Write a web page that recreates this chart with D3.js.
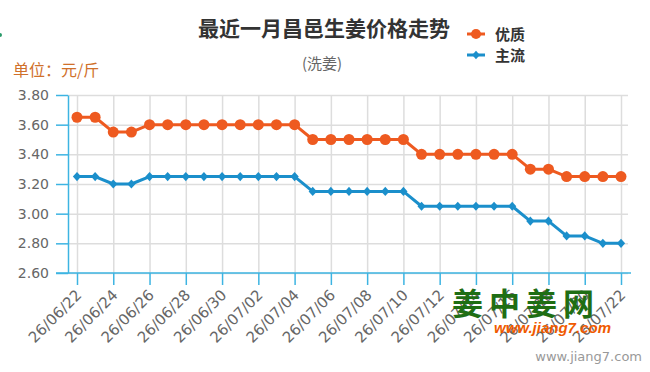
<!DOCTYPE html>
<html>
<head>
<meta charset="utf-8">
<script src="https://cdn.jsdelivr.net/npm/d3@7"></script>
<style>
  body { margin: 0; background: #fff; }
  #chart-area { width: 650px; height: 372px; }
  .axis text { font-family: "DejaVu Sans", sans-serif; font-size: 14px; fill: #666; }
  .x-axis text { font-size: 15px; }
  .axis path, .axis line { stroke: #3db4e2; stroke-width: 1.5; }
  .grid line { stroke: #dddddd; stroke-width: 1.5; }
  .grid path { display: none; }
</style>
</head>
<body>
<div id="chart-area"></div>
<script>

// Data
var dates = ["26/06/22", "26/06/23", "26/06/24", "26/06/25", "26/06/26", "26/06/27",
  "26/06/28", "26/06/29", "26/06/30", "26/07/01", "26/07/02", "26/07/03", "26/07/04",
  "26/07/05", "26/07/06", "26/07/07", "26/07/08", "26/07/09", "26/07/10", "26/07/11",
  "26/07/12", "26/07/13", "26/07/14", "26/07/15", "26/07/16", "26/07/17", "26/07/18",
  "26/07/19", "26/07/20", "26/07/21", "26/07/22"];

var premiumPrices = [3.65, 3.65, 3.55, 3.55, 3.60, 3.60, 3.60, 3.60, 3.60, 3.60, 3.60,
  3.60, 3.60, 3.50, 3.50, 3.50, 3.50, 3.50, 3.50, 3.40, 3.40, 3.40, 3.40, 3.40, 3.40,
  3.30, 3.30, 3.25, 3.25, 3.25, 3.25];

var mainPrices = [3.25, 3.25, 3.20, 3.20, 3.25, 3.25, 3.25, 3.25, 3.25, 3.25, 3.25,
  3.25, 3.25, 3.15, 3.15, 3.15, 3.15, 3.15, 3.15, 3.05, 3.05, 3.05, 3.05, 3.05, 3.05,
  2.95, 2.95, 2.85, 2.85, 2.80, 2.80];

var yTicks = [2.60, 2.80, 3.00, 3.20, 3.40, 3.60, 3.80];

var seriesNames = ["优质", "主流"];
var seriesColors = ["#ee5a20", "#1b8fcb"];

// square-ish diamond marker
var diamond = {
  draw: function(context, size) {
    var r = Math.sqrt(size / 2);
    context.moveTo(0, -r);
    context.lineTo(r * 0.9, 0);
    context.lineTo(0, r);
    context.lineTo(-r * 0.9, 0);
    context.closePath();
  }
};

var margin = {top: 95, right: 20, bottom: 99, left: 68};
var width = 650 - margin.left - margin.right,
    height = 372 - margin.top - margin.bottom;

var svg = d3.select("#chart-area").append("svg")
  .attr("width", 650)
  .attr("height", 372);

var g = svg.append("g")
  .attr("transform", "translate(" + margin.left + "," + margin.top + ")");

// Scales
var x = d3.scalePoint()
  .domain(dates)
  .range([9, 553]);

var y = d3.scaleLinear()
  .domain([2.6, 3.8])
  .range([height, 0]);

var labelDates = dates.filter(function(d, i) { return i % 2 == 0; });

// Grid
g.append("g")
  .attr("class", "grid")
  .call(d3.axisLeft(y).tickValues(yTicks).tickSize(-width + 2).tickFormat(""));

g.append("g")
  .attr("class", "grid")
  .attr("transform", "translate(0," + height + ")")
  .call(d3.axisBottom(x).tickValues(labelDates).tickSize(-height).tickFormat(""));

// x axis line (extends left under the y ticks)
g.append("line")
  .attr("x1", -12).attr("x2", width + 1)
  .attr("y1", height).attr("y2", height)
  .attr("stroke", "#3db4e2").attr("stroke-width", 1.5);

// Axes
var xAxis = g.append("g")
  .attr("class", "axis x-axis")
  .attr("transform", "translate(0," + height + ")")
  .call(d3.axisBottom(x).tickValues(labelDates).tickSizeInner(12).tickSizeOuter(0));
xAxis.select(".domain").remove();
xAxis.selectAll("text")
  .attr("text-anchor", "end")
  .attr("dy", null)
  .attr("y", 0)
  .attr("transform", "translate(5,23) rotate(-45)");

g.append("g")
  .attr("class", "axis y-axis")
  .call(d3.axisLeft(y).tickValues(yTicks).tickSizeInner(12).tickSizeOuter(0)
    .tickPadding(7).tickFormat(d3.format(".2f")));

// Lines + markers
var allSeries = [premiumPrices, mainPrices];

var line = d3.line()
  .x(function(d, i) { return x(dates[i]); })
  .y(function(d) { return y(d); });

allSeries.forEach(function(values, k) {
  g.append("path")
    .datum(values)
    .attr("fill", "none")
    .attr("stroke", seriesColors[k])
    .attr("stroke-width", 3)
    .attr("stroke-linejoin", "round")
    .attr("d", line);
});

g.selectAll(".dot")
  .data(premiumPrices)
  .enter()
  .append("circle")
  .attr("class", "dot")
  .attr("cx", function(d, i) { return x(dates[i]); })
  .attr("cy", function(d) { return y(d); })
  .attr("r", 5.5)
  .attr("fill", seriesColors[0]);

g.selectAll(".diamond")
  .data(mainPrices)
  .enter()
  .append("path")
  .attr("class", "diamond")
  .attr("transform", function(d, i) { return "translate(" + x(dates[i]) + "," + y(d) + ")"; })
  .attr("d", d3.symbol().type(diamond).size(42))
  .attr("fill", seriesColors[1]);

// Titles
svg.append("text")
  .attr("x", 324).attr("y", 36)
  .attr("text-anchor", "middle")
  .style("font-family", "'Noto Sans CJK SC', sans-serif")
  .style("font-size", "21px")
  .style("font-weight", "bold")
  .attr("fill", "#333")
  .text("最近一月昌邑生姜价格走势");

svg.append("text")
  .attr("x", 322).attr("y", 69)
  .attr("text-anchor", "middle")
  .style("font-family", "'Noto Sans CJK SC', sans-serif")
  .style("font-size", "15px")
  .attr("fill", "#666")
  .text("(洗姜)");

svg.append("text")
  .attr("x", 13).attr("y", 76)
  .style("font-family", "'Noto Sans CJK SC', sans-serif")
  .style("font-size", "16px")
  .attr("fill", "#d0702a")
  .text("单位：元/斤");

// Legend
var legend = svg.selectAll(".legend")
  .data(seriesNames)
  .enter()
  .append("g")
  .attr("class", "legend")
  .attr("transform", function(d, i) { return "translate(476," + (34 + i * 21) + ")"; });

legend.append("line")
  .attr("x1", -9).attr("x2", 9)
  .attr("stroke", function(d, i) { return seriesColors[i]; })
  .attr("stroke-width", 3);

legend.append("path")
  .attr("d", function(d, i) {
    return i == 0 ? d3.symbol().type(d3.symbolCircle).size(80)() : d3.symbol().type(diamond).size(36)();
  })
  .attr("fill", function(d, i) { return seriesColors[i]; });

legend.append("text")
  .attr("x", 19).attr("y", 6)
  .style("font-family", "'Noto Sans CJK SC', sans-serif")
  .style("font-size", "15px")
  .style("font-weight", "bold")
  .attr("fill", "#333")
  .text(function(d) { return d; });

// Watermark
svg.append("text")
  .attr("x", 452).attr("y", 315)
  .style("font-family", "'Noto Sans CJK SC', sans-serif")
  .style("font-size", "31px")
  .style("font-weight", "bold")
  .style("letter-spacing", "6px")
  .attr("fill", "#1f6e14")
  .text("姜中姜网");

svg.append("text")
  .attr("x", 494).attr("y", 333)
  .style("font-family", "'Liberation Sans', sans-serif")
  .style("font-size", "15px")
  .style("font-weight", "bold")
  .style("font-style", "italic")
  .attr("fill", "#f05a00")
  .text("www.jiang7.com");

svg.append("text")
  .attr("x", 642).attr("y", 361)
  .attr("text-anchor", "end")
  .style("font-family", "'DejaVu Sans', sans-serif")
  .style("font-size", "13px")
  .attr("fill", "#999")
  .text("www.jiang7.com");

svg.append("circle")
  .attr("cx", 0).attr("cy", 35).attr("r", 2)
  .attr("fill", "#2a9a6a");

</script>
</body>
</html>
